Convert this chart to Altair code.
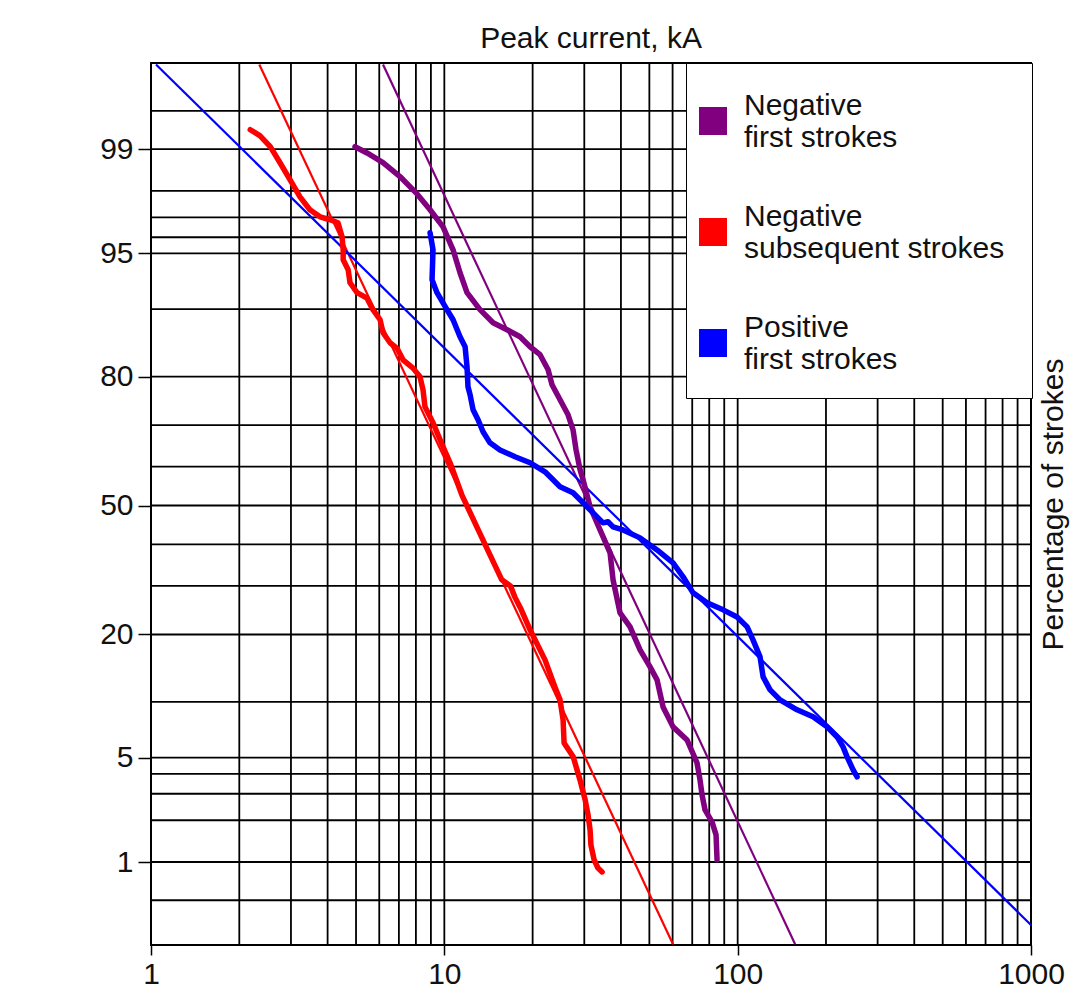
import altair as alt
import pandas as pd
from statistics import NormalDist

ND = NormalDist()


def probit(p):
    return ND.inv_cdf(p / 100.0)


SERIES = ["Negative first strokes", "Negative subsequent strokes", "Positive first strokes"]
COLORS = ["#800080", "#ff0000", "#0000ff"]

# ---- measured distributions (peak current kA, percentage of strokes exceeding) ----
negfirst_kA = [4.96, 5.45, 6.18, 7.06, 8.07, 8.94, 9.90, 10.71, 11.31, 11.95, 13.23, 14.66,
               16.36, 18.12, 19.60, 21.20, 22.58, 23.29, 24.80, 26.41, 27.47, 28.12, 29.02,
               29.71, 31.39, 33.95, 36.73, 37.60, 39.72, 42.97, 46.48, 50.27, 53.11, 55.67,
               60.21, 67.23, 72.69, 74.42, 75.60, 77.40, 81.77, 84.39, 85.06]
negfirst_pct = [99.04, 98.93, 98.74, 98.41, 97.90, 97.32, 96.55, 95.24, 93.56, 91.76, 89.94,
                88.35, 87.43, 86.46, 84.99, 83.75, 81.22, 78.46, 75.49, 72.31, 68.93, 64.20,
                59.21, 56.67, 49.67, 43.68, 37.87, 31.39, 24.19, 21.42, 17.31, 14.62, 12.76,
                9.44, 7.43, 6.30, 4.65, 3.67, 2.95, 2.35, 1.95, 1.58, 1.04]

negsub_kA = [2.18, 2.35, 2.55, 2.75, 2.98, 3.22, 3.48, 3.77, 4.08, 4.34, 4.48, 4.52, 4.52,
             4.70, 4.77, 5.04, 5.45, 5.71, 6.04, 6.18, 6.53, 6.90, 7.23, 7.82, 8.26, 8.46,
             8.59, 9.15, 9.90, 10.46, 11.47, 12.81, 14.31, 15.70, 16.80, 17.40, 18.30, 19.60,
             22.04, 24.03, 24.80, 25.40, 25.60, 27.50, 29.00, 30.20, 30.90, 31.40, 31.60,
             32.40, 33.40, 34.50]
negsub_pct = [99.29, 99.21, 99.04, 98.74, 98.32, 97.80, 97.32, 97.02, 96.89, 96.75, 96.03,
              95.24, 94.56, 93.81, 92.70, 91.76, 91.20, 89.94, 88.73, 87.02, 85.59, 84.75,
              82.92, 81.50, 79.96, 77.50, 74.02, 70.53, 64.92, 60.99, 52.79, 44.98, 37.38,
              31.39, 30.00, 27.50, 24.80, 20.86, 15.69, 11.45, 10.24, 8.09, 6.07, 5.05, 3.67,
              2.74, 2.18, 1.71, 1.34, 1.04, 0.90, 0.84]

posfirst_kA = [8.94, 9.15, 9.08, 9.44, 10.21, 10.71, 11.31, 11.77, 11.95, 12.04, 12.24, 12.53,
               13.03, 13.55, 14.31, 15.48, 17.42, 19.60, 22.04, 23.85, 24.80, 27.47, 29.71,
               33.16, 34.76, 36.15, 37.60, 40.67, 46.48, 53.11, 60.21, 65.15, 70.45, 78.65,
               89.19, 99.54, 107.7, 112.8, 119.2, 122.1, 129.0, 139.5, 159.4, 180.7, 201.7,
               218.3, 228.7, 236.1, 247.5, 255.4]
posfirst_pct = [96.25, 95.24, 92.96, 91.76, 89.94, 88.73, 86.46, 84.99, 81.73, 78.08, 76.51,
                73.40, 71.22, 68.49, 65.87, 64.17, 62.47, 60.99, 58.71, 56.15, 54.86, 53.31,
                50.71, 47.05, 45.50, 45.77, 44.47, 43.68, 41.64, 38.61, 35.42, 32.09, 28.44,
                26.27, 24.80, 23.36, 21.42, 19.03, 16.16, 13.17, 11.45, 10.24, 9.13, 8.40,
                7.43, 6.55, 5.76, 5.05, 4.23, 3.83]

# ---- fitted log-normal lines (two end points each) ----
negfirst_fit_kA = [6.18, 157.0]
negfirst_fit_pct = [99.8, 0.21]
negsub_fit_kA = [2.34, 60.2]
negsub_fit_pct = [99.8, 0.21]
posfirst_fit_kA = [1.04, 1000.0]
posfirst_fit_pct = [99.8, 0.31]

# ---- grid and axis ----
x_grid = [1, 2, 3, 4, 5, 6, 7, 8, 9, 10, 20, 30, 40, 50, 60, 70, 80, 90, 100,
          200, 300, 400, 500, 600, 700, 800, 900, 1000]
y_grid = [0.5, 1, 2, 3, 4, 5, 10, 20, 30, 40, 50, 60, 70, 80, 90, 95, 96, 97, 98, 99, 99.5]
x_labels = [1, 10, 100, 1000]
y_labels = [1, 5, 20, 50, 80, 95, 99]
P_MIN, P_MAX = 0.2066, 99.806

Z_MIN, Z_MAX = probit(P_MIN), probit(P_MAX)


def frame(xs_list, ps_list):
    rows = []
    for name, col, xs, ps in zip(SERIES, COLORS, xs_list, ps_list):
        for i, (x, p) in enumerate(zip(xs, ps)):
            rows.append({"series": name, "col": col, "kA": x, "pct": p,
                         "z": probit(p), "idx": i})
    return pd.DataFrame(rows)


curves = frame([negfirst_kA, negsub_kA, posfirst_kA], [negfirst_pct, negsub_pct, posfirst_pct])
fits = frame([negfirst_fit_kA, negsub_fit_kA, posfirst_fit_kA],
             [negfirst_fit_pct, negsub_fit_pct, posfirst_fit_pct])
vgrid = pd.DataFrame({"kA": x_grid})
hgrid = pd.DataFrame({"z": [probit(p) for p in y_grid]})

FONT = "Liberation Sans"
xscale = alt.Scale(type="log", domain=[1, 1000], nice=False)
yscale = alt.Scale(domain=[Z_MIN, Z_MAX], nice=False, zero=False)

label_expr = " : ".join(
    f"abs(datum.value - ({probit(p):.6f})) < 0.001 ? '{p}'" for p in y_labels
) + " : ''"

x_axis = alt.Axis(values=x_labels, format="d", title=None, grid=False, domain=False,
                  tickColor="black", tickWidth=1.5, tickSize=10, labelFontSize=30,
                  labelFont=FONT, labelColor="#111", labelPadding=4, labelFlush=False,
                  labelOverlap=False)
y_axis = alt.Axis(values=[probit(p) for p in y_labels], labelExpr=label_expr,
                  title="Percentage of strokes", titleX=902.5, titleY=441, titleAngle=270,
                  titleAlign="center", titleBaseline="middle", titleFontSize=30,
                  titleFont=FONT, titleFontWeight="normal", titleColor="#111",
                  grid=False, domain=False, tickColor="black", tickWidth=1.5, tickSize=13,
                  labelFontSize=30, labelFont=FONT, labelColor="#111", labelPadding=5,
                  labelOverlap=False)

X = alt.X("kA:Q", scale=xscale, axis=x_axis)
Y = alt.Y("z:Q", scale=yscale, axis=y_axis)

vlines = alt.Chart(vgrid).mark_rule(color="black", strokeWidth=1.8).encode(x=X)
hlines = alt.Chart(hgrid).mark_rule(color="black", strokeWidth=1.8).encode(y=Y)

stroke_enc = alt.Stroke("col:N", scale=None)

fit_lines = alt.Chart(fits).mark_line(strokeWidth=2.2, clip=True).encode(
    x=X, y=Y, stroke=stroke_enc, detail="series:N", order=alt.Order("idx:Q"),
)

curve_lines = alt.Chart(curves).mark_line(strokeWidth=5.5, strokeJoin="round",
                                          strokeCap="round", clip=True).encode(
    x=X, y=Y, stroke=stroke_enc, detail="series:N", order=alt.Order("idx:Q"),
)

legend_expr = ("datum.label == 'Negative first strokes' ? ['Negative', 'first strokes'] : "
               "datum.label == 'Negative subsequent strokes' ? ['Negative', 'subsequent strokes'] : "
               "['Positive', 'first strokes']")

# square swatch centred on the two-line label; the extra move-to point only widens the
# entry's layout box so the legend frame matches the original
SWATCH = "M21.9,4.14M-1,0.07H1V2.07H-1Z"

legend_marks = alt.Chart(fits).mark_square(size=784, opacity=0, filled=True).encode(
    x=X, y=Y,
    fill=alt.Fill(
        "series:N", scale=alt.Scale(domain=SERIES, range=COLORS),
        legend=alt.Legend(orient="none", legendX=535, legendY=0, title=" ",
                          titleFontSize=12, titlePadding=4,
                          symbolType=SWATCH, symbolSize=784, symbolOpacity=1,
                          symbolStrokeWidth=0, labelFontSize=30, labelFont=FONT,
                          labelColor="#111", labelExpr=legend_expr, labelLimit=500,
                          labelOffset=16, padding=12, rowPadding=38,
                          fillColor="white", strokeColor="black"),
    ),
)

chart = alt.layer(vlines, hlines, fit_lines, curve_lines, legend_marks).properties(
    width=880,
    height=882,
    autosize=alt.AutoSizeParams(type="none"),
    padding={"left": 151, "top": 63, "right": 51, "bottom": 61},
    title=alt.TitleParams("Peak current, kA", fontSize=30, font=FONT, fontWeight="normal",
                          color="#111", anchor="middle", offset=-4),
    background="white",
).configure(font=FONT, view=alt.ViewConfig(stroke="black", strokeWidth=2))

chart.save("out.html", embed_options={"renderer": "svg", "actions": False})
